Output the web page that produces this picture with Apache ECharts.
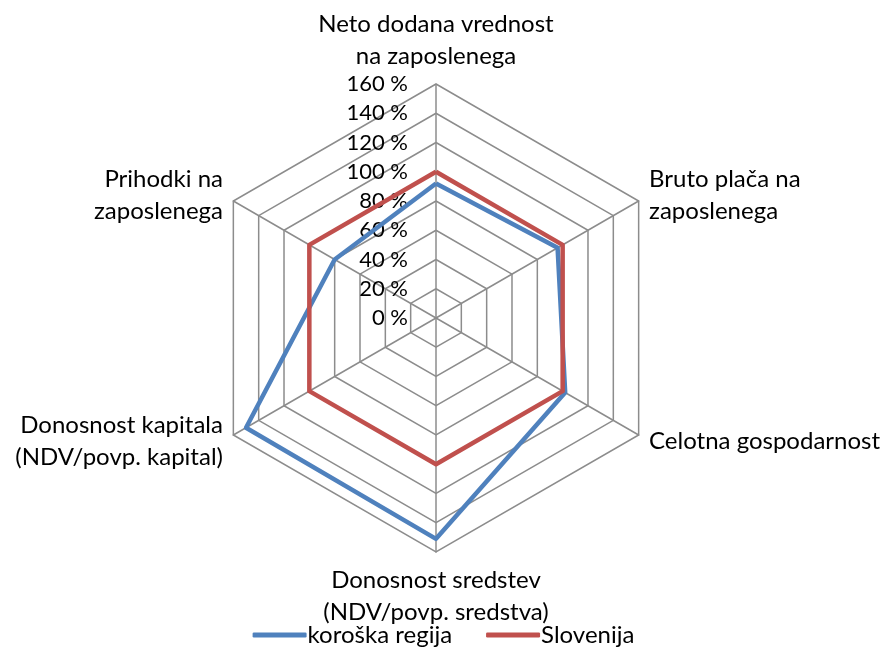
<!DOCTYPE html>
<html>
<head>
<meta charset="utf-8">
<script src="https://cdn.jsdelivr.net/npm/echarts@6/dist/echarts.min.js"></script>
<style>
  html, body { margin: 0; padding: 0; background: #fff; }
  #main { width: 887px; height: 656px; }
</style>
</head>
<body>
<div id="main"></div>
<script>
var chart = echarts.init(document.getElementById('main'));

// indicators in ECharts order (counter-clockwise from the top)
var indicatorNames = [
    'Neto dodana vrednost\nna zaposlenega',
    'Prihodki na\nzaposlenega',
    'Donosnost kapitala\n(NDV/povp. kapital)',
    'Donosnost sredstev\n(NDV/povp. sredstva)',
    'Celotna gospodarnost',
    'Bruto plača na\nzaposlenega'
];
var seriesNames = ['koroška regija', 'Slovenija'];
var koroska = [92, 80, 150, 151, 102, 96];
var slovenija = [100, 100, 100, 100, 100, 100];
var axisMax = 160;

var font = 'Lato, "Open Sans", sans-serif';

var indicator = indicatorNames.map(function (n, i) {
    var item = { name: n, min: 0, max: axisMax };
    if (i === 0) {
        item.axisLabel = {
            show: true,
            formatter: '{value} %',
            color: '#000',
            fontSize: 22,
            fontFamily: font,
            margin: 28
        };
    }
    return item;
});

option = {
    backgroundColor: '#fff',
    legend: {
        data: seriesNames,
        bottom: 4,
        left: 'center',
        itemWidth: 54,
        itemHeight: 5,
        itemGap: 34,
        icon: 'roundRect',
        textStyle: { fontSize: 24, fontFamily: font, color: '#000', padding: [0, 0, 0, -4] }
    },
    radar: {
        center: [436, 318],
        radius: 234,
        shape: 'polygon',
        splitNumber: 8,
        startAngle: 90,
        indicator: indicator,
        axisNameGap: 12,
        axisName: {
            color: '#000',
            fontSize: 24,
            fontFamily: font,
            lineHeight: 32
        },
        axisLine: { lineStyle: { color: '#8c8c8c', width: 1.5 } },
        splitLine: { lineStyle: { color: '#8c8c8c', width: 1.5 } },
        splitArea: { show: false }
    },
    series: [{
        type: 'radar',
        symbol: 'none',
        data: [{
            name: seriesNames[0],
            value: koroska,
            lineStyle: { color: '#4F81BD', width: 4.5 },
            itemStyle: { color: '#4F81BD' }
        }, {
            name: seriesNames[1],
            value: slovenija,
            lineStyle: { color: '#C0504D', width: 4.5 },
            itemStyle: { color: '#C0504D' }
        }]
    }]
};

if (option && typeof option === "object") {
    chart.setOption(option, true);
}
</script>
</body>
</html>
